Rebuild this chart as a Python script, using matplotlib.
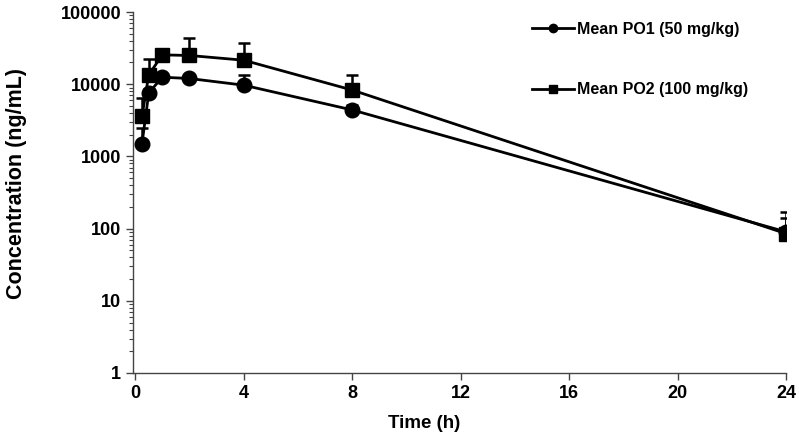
import numpy as np
import matplotlib
matplotlib.use("Agg")
import matplotlib.pyplot as plt
from matplotlib.ticker import LogLocator, FixedLocator, NullFormatter

plt.rcParams['font.family'] = ['Liberation Sans', 'DejaVu Sans']

# sampling times (h)
time_h = [0.25, 0.5, 1, 2, 4, 8, 24]

# mean concentrations (ng/mL) and upper SD
po1_mean = [1500, 7600, 12500, 12000, 9700, 4400, 90]
po1_sd = [950, 1000, 900, 1000, 3600, 800, 50]
po2_mean = [3600, 13500, 25500, 25000, 21500, 8300, 85]
po2_sd = [2900, 8500, 1000, 18000, 15500, 5000, 85]

labels = ['Mean PO1 (50 mg/kg)', 'Mean PO2 (100 mg/kg)']

fig = plt.figure(figsize=(7.99, 4.37), dpi=100)
ax = fig.add_axes([0.1665, 0.1465, 0.8175, 0.826])

t = np.array(time_h)
for mean, sd, mk, ms in [(po1_mean, po1_sd, 'o', 10.5), (po2_mean, po2_sd, 's', 10)]:
    mean = np.array(mean, float)
    sd = np.array(sd, float)
    ax.errorbar(t, mean, yerr=[np.zeros_like(sd), sd], fmt='none',
                ecolor='black', elinewidth=1.8, capsize=4, capthick=1.8, zorder=2)
    ax.plot(t, mean, color='black', lw=2.0, marker=mk, ms=ms, zorder=3)

ax.set_yscale('log')
ax.set_ylim(1, 100000)
ax.set_xlim(-0.08, 24)
ax.xaxis.set_major_locator(FixedLocator([0, 4, 8, 12, 16, 20, 24]))
ax.yaxis.set_minor_locator(LogLocator(base=10, subs=np.arange(2, 10), numticks=10))
ax.yaxis.set_minor_formatter(NullFormatter())
ax.set_yticks([1, 10, 100, 1000, 10000, 100000])
ax.set_yticklabels(['1', '10', '100', '1000', '10000', '100000'])

for s in ['top', 'right']:
    ax.spines[s].set_visible(False)
for s in ['left', 'bottom']:
    ax.spines[s].set_linewidth(1.0)
    ax.spines[s].set_color('#444444')

ax.tick_params(axis='both', which='major', direction='out', length=5, width=1.0,
               color='#444444', labelsize=13)
ax.tick_params(axis='y', which='minor', direction='out', length=3, width=0.8, color='#444444')
for lab in ax.get_xticklabels() + ax.get_yticklabels():
    lab.set_fontweight('bold')

ax.set_xlabel('Time (h)', fontsize=13.5, fontweight='bold')
ax.xaxis.set_label_coords(0.446, -0.117)
ax.set_ylabel('Concentration (ng/mL)', fontsize=15.5, fontweight='bold')
ax.yaxis.set_label_coords(-0.163, 0.524)

h1, = ax.plot([], [], color='black', lw=2.0, marker='o', ms=6)
h2, = ax.plot([], [], color='black', lw=2.0, marker='s', ms=6)
leg = fig.legend([h1, h2], labels, loc='upper left', bbox_to_anchor=(0.648, 0.983),
                 frameon=False, prop={'weight': 'bold', 'size': 11.5},
                 handlelength=2.6, handletextpad=0.2, labelspacing=2.85)

fig.savefig('out.png', dpi=100)
